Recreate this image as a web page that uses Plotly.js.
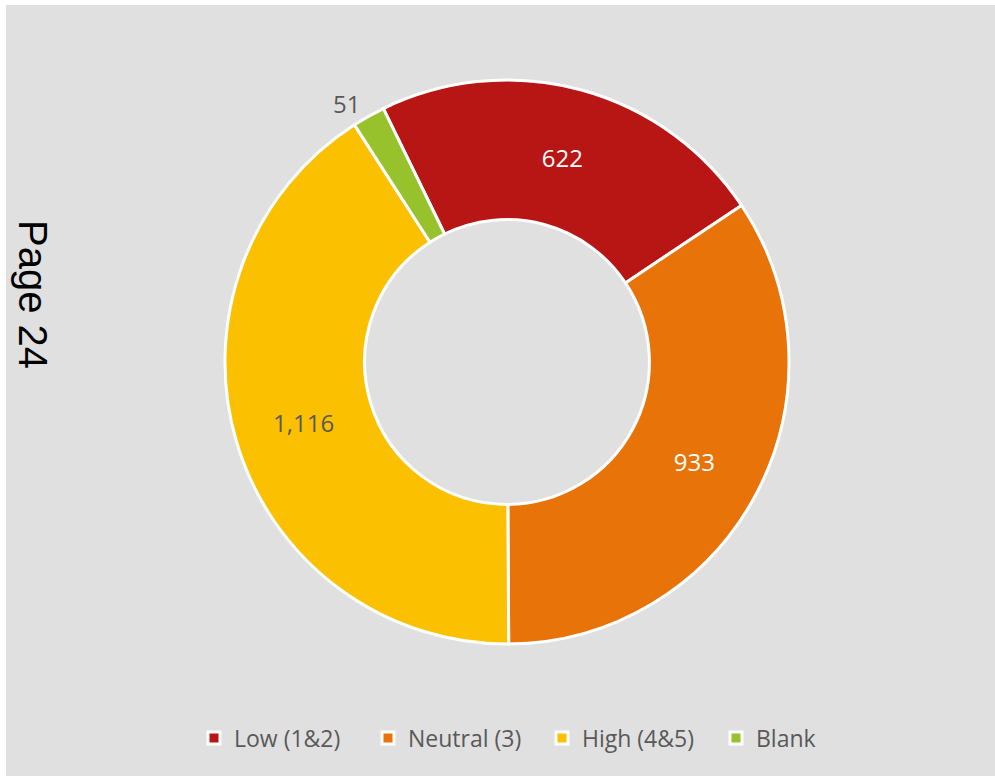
<!DOCTYPE html>
<html>
<head>
<meta charset="utf-8">
<script src="https://cdn.plot.ly/plotly-3.0.1.min.js"></script>
<style>
html,body{margin:0;padding:0;background:#E0E0E0;width:995px;height:776px;overflow:hidden;}
#chart{position:absolute;left:6px;top:5px;width:989px;height:771px;}
.edge{position:absolute;background:#ffffff;z-index:5;}
</style>
</head>
<body>
<div id="chart"></div>
<div class="edge" style="left:0;top:0;width:6px;height:100%;"></div>
<div class="edge" style="left:0;top:0;width:100%;height:5px;"></div>
<script>
const categories = ["Low (1&2)", "Neutral (3)", "High (4&5)", "Blank"];
const values = [622, 933, 1116, 51];
const colors = ["#B81515", "#E87309", "#FBC000", "#97C22C"];
const labelColors = ["#ffffff", "#ffffff", "#595959", "#595959"];
const positions = ["inside", "inside", "inside", "outside"];
const pageTitle = "Page 24";

const W = 989, H = 771;
const cx = 501, cy = 357, R = 282;
const py = v => (H - v) / H;  // pixel-from-top to paper fraction

const trace = {
  type: "pie",
  labels: categories,
  values: values,
  sort: false,
  direction: "clockwise",
  rotation: -26,
  hole: 0.505,
  marker: {colors: colors, line: {color: "#ffffff", width: 3}},
  textinfo: "value",
  texttemplate: "%{value:,}",
  textposition: positions,
  insidetextorientation: "horizontal",
  textfont: {family: "Open Sans, sans-serif", size: 24, color: labelColors},
  outsidetextfont: {family: "Open Sans, sans-serif", size: 24, color: "#595959"},
  hoverinfo: "none",
  domain: {x: [(cx - R) / W, (cx + R) / W], y: [py(cy + R), py(cy - R)]}
};

const layout = {
  width: W, height: H,
  paper_bgcolor: "#E0E0E0",
  plot_bgcolor: "#E0E0E0",
  margin: {l: 0, r: 0, t: 0, b: 0},
  showlegend: true,
  legend: {
    orientation: "h", x: 188 / W, xanchor: "left", y: py(733), yanchor: "middle",
    font: {family: "Open Sans, sans-serif", size: 23, color: "#595959"},
    entrywidth: 129, entrywidthmode: "pixels",
    traceorder: "normal"
  },
  annotations: [{
    text: pageTitle, textangle: 90, showarrow: false,
    xref: "paper", yref: "paper", x: 27 / W, y: py(289), xanchor: "center", yanchor: "middle",
    font: {family: "Liberation Sans, Arial, sans-serif", size: 40, color: "#000000"}
  }]
};

Plotly.newPlot("chart", [trace], layout, {displayModeBar: false, staticPlot: true});
</script>
</body>
</html>
